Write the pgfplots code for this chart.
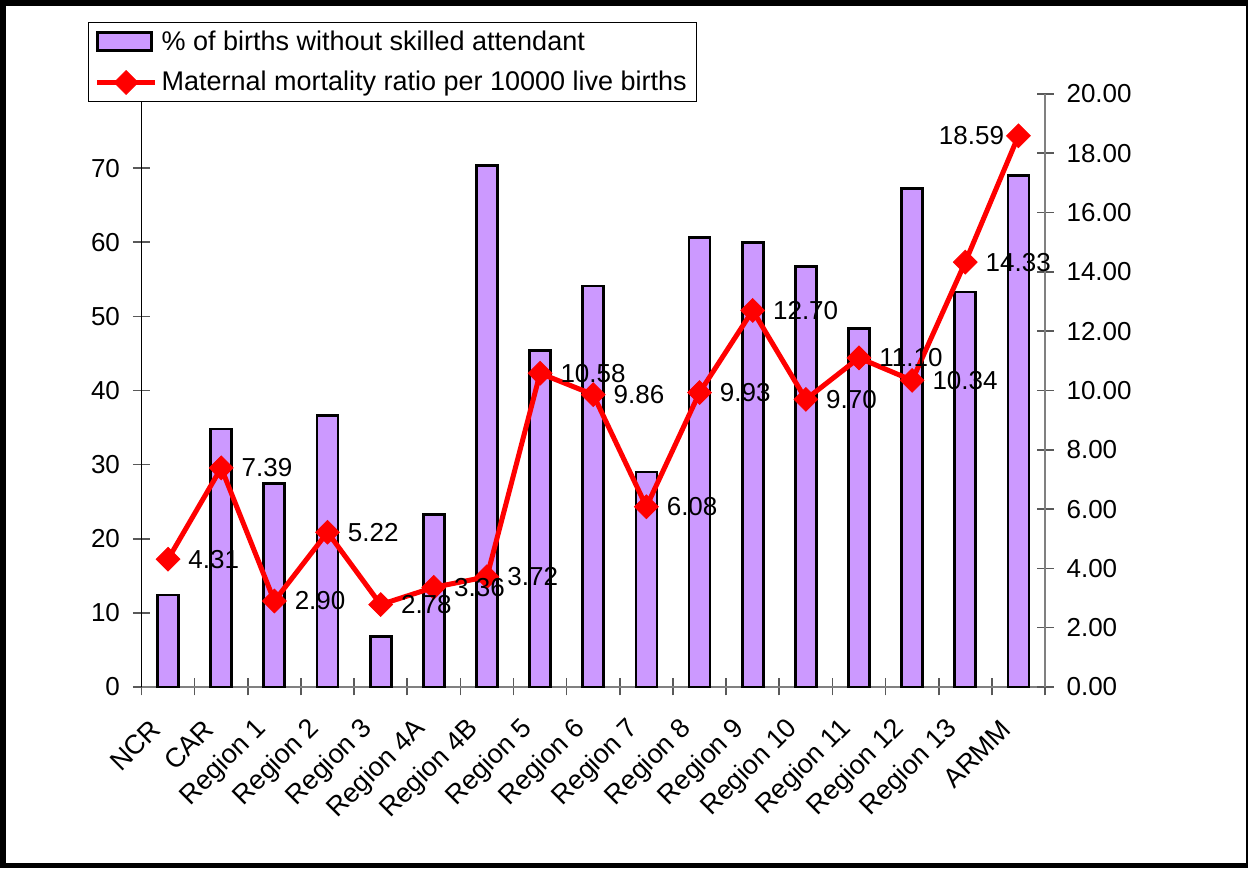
\documentclass[border=0pt]{standalone}
\usepackage{pgfplots}
\usepackage{pgfplotstable}
\pgfplotsset{compat=1.18}
\usepackage{fontspec}
\setmainfont{Liberation Sans}
\newcommand\f{\fontsize{13}{15.6}\selectfont}
\newcommand\fl{\fontsize{13.5}{16}\selectfont}
\definecolor{barc}{HTML}{CC99FF}
\definecolor{axc}{HTML}{808080}
\pgfplotsset{/pgf/number format/assume math mode=true,
  barleg/.style={legend image code/.code={\draw[##1] (0pt,-4.5pt) rectangle (27pt,4.5pt);}},
  lineleg/.style={legend image code/.code={\draw[mark repeat=2, mark phase=2, ##1] plot coordinates {(0pt,0pt) (14.5pt,0pt) (29pt,0pt)};}},
}

\pgfplotstableread{
x bar line lab
0 12.4 4.31 4.31
1 34.8 7.39 7.39
2 27.4 2.90 2.90
3 36.6 5.22 5.22
4 6.8 2.78 2.78
5 23.3 3.36 3.36
6 70.4 3.72 3.72
7 45.4 10.58 10.58
8 54.1 9.86 9.86
9 29.0 6.08 6.08
10 60.6 9.93 9.93
11 60.0 12.70 12.70
12 56.7 9.70 9.70
13 48.4 11.10 11.10
14 67.2 10.34 10.34
15 53.3 14.33 14.33
16 69.0 18.59 18.59
}\data

\begin{document}
\begin{tikzpicture}[x=1pt,y=1pt]
\fill[black] (0,0) rectangle (624,434);
\fill[white] (3,2.5) rectangle (623,431);
\begin{axis}[
  at={(70.75pt,90.5pt)}, anchor=south west,
  scale only axis, width=451.75pt, height=296.5pt,
  xmin=-0.5, xmax=16.5, ymin=0, ymax=80,
  axis x line*=bottom, axis y line*=left,
  x axis line style={draw=axc, line width=0.8pt},
  y axis line style={draw=black, line width=0.8pt},
  xtick={-0.5,0.5,...,16.5},
  x tick label as interval,
  xticklabels={NCR,CAR,Region 1,Region 2,Region 3,Region 4A,Region 4B,Region 5,Region 6,Region 7,Region 8,Region 9,Region 10,Region 11,Region 12,Region 13,ARMM},
  xticklabel style={xshift=-6pt, yshift=-14.5pt, rotate=45, anchor=east, font=\fl, inner sep=0pt},
  ytick={0,10,...,70},
  yticklabel style={font=\f, xshift=-3pt},
  tick align=center, major tick length=8.5pt,
  tick style={draw=black!65, line width=0.8pt},
  clip=false,
]
\addplot[ybar, bar width=10.5pt, fill=barc, draw=black, line width=1.4pt] table[x=x,y=bar]{\data};
\end{axis}
\begin{axis}[
  at={(70.75pt,90.5pt)}, anchor=south west,
  scale only axis, width=451.75pt, height=296.5pt,
  xmin=-0.5, xmax=16.5, ymin=0, ymax=20,
  axis x line=none, axis y line*=right,
  y axis line style={draw=axc, line width=0.8pt},
  ytick={0,2,...,20},
  yticklabel style={font=\f, xshift=3pt, /pgf/number format/.cd, fixed, fixed zerofill, precision=2},
  tick align=center, major tick length=8.5pt,
  tick style={draw=black!65, line width=0.8pt},
  clip=false,
  legend cell align=left,
  legend style={at={(-0.0592,1.1214)}, anchor=north west, draw=black, line width=0.6pt, fill=white,
    inner xsep=3pt, inner ysep=2pt, row sep=5pt, nodes={inner sep=2pt, font=\fl}},
]
\addlegendimage{fill=barc, draw=black, line width=1.4pt, barleg}
\addlegendentry{\% of births without skilled attendant}
\addplot[red, line width=2.5pt, mark=square*, mark size=4.2pt,
  mark options={rotate=45, line width=0.4pt, fill=red, draw=red}, lineleg]
  table[x=x,y=line]{\data};
\addlegendentry{Maternal mortality ratio per 10000 live births}
\addplot[draw=none, forget plot, point meta=explicit symbolic,
  nodes near coords={\pgfplotspointmeta},
  every node near coord/.append style={anchor=west, font=\f, inner sep=0pt, xshift=10pt, yshift=0pt},
  skip coords between index={16}{17}]
  table[x=x,y=line,meta=lab]{\data};
\addplot[draw=none, forget plot, point meta=explicit symbolic,
  nodes near coords={\pgfplotspointmeta},
  every node near coord/.append style={anchor=east, font=\f, inner sep=0pt, xshift=-7pt, yshift=0pt},
  skip coords between index={0}{16}]
  table[x=x,y=line,meta=lab]{\data};
\end{axis}
\end{tikzpicture}
\end{document}
